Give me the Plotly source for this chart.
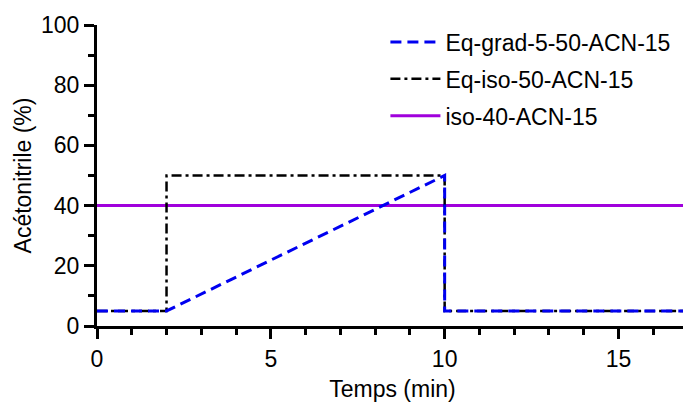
import plotly.graph_objects as go

# Data
grad_x = [0, 2, 10, 10, 17]
grad_y = [5, 5, 50, 5, 5]
iso50_x = [0, 2, 2, 10, 10, 17]
iso50_y = [5, 5, 50, 50, 5, 5]
iso40_x = [0, 17]
iso40_y = [40, 40]
x_ticks = [0, 5, 10, 15]
y_ticks = [0, 20, 40, 60, 80, 100]

FONT = "Liberation Sans, Arial, sans-serif"
FS = 23

fig = go.Figure()
fig.add_trace(go.Scatter(x=iso40_x, y=iso40_y, mode="lines", name="iso-40-ACN-15",
                         line=dict(color="#A000DC", width=3), legendrank=3,
                         legendgroup="c"))
fig.add_trace(go.Scatter(x=iso50_x, y=iso50_y, mode="lines", name="Eq-iso-50-ACN-15",
                         line=dict(color="black", width=2.5, dash="10px,4px,3px,4px"),
                         legendrank=2, legendgroup="b"))
fig.add_trace(go.Scatter(x=grad_x, y=grad_y, mode="lines", name="Eq-grad-5-50-ACN-15",
                         line=dict(color="#0000F0", width=3, dash="11px,6px"),
                         legendrank=1, legendgroup="a"))

axis_common = dict(showline=True, linecolor="black", linewidth=3, ticks="outside",
                   tickwidth=3, ticklen=10, tickcolor="black", showgrid=False,
                   zeroline=False, automargin=False,
                   tickfont=dict(family=FONT, size=FS, color="black"),
                   title_font=dict(family=FONT, size=FS, color="black"))

fig.update_xaxes(range=[0, 17], tickvals=x_ticks, ticktext=[str(v) for v in x_ticks],
                 minor=dict(dtick=1, ticks="outside", ticklen=6, tickwidth=3, tickcolor="black"),
                 title_text="Temps (min)", title_standoff=11, **axis_common)
fig.update_yaxes(range=[0, 100], tickvals=y_ticks, ticktext=[str(v) for v in y_ticks],
                 minor=dict(dtick=10, ticks="outside", ticklen=6, tickwidth=3, tickcolor="black"),
                 title_text="Acétonitrile (%)", title_standoff=3, **axis_common)

# page body has an 8px margin: figure covers viewport x 8..691, y 8..403
fig.update_layout(
    width=683, height=395,
    margin=dict(l=89, r=3, t=17, b=77),
    plot_bgcolor="white", paper_bgcolor="white",
    font=dict(family=FONT, size=FS, color="black"),
    showlegend=True,
    legend=dict(x=0.488, y=1.015, xanchor="left", yanchor="top",
                traceorder="grouped", tracegroupgap=4, itemwidth=50,
                font=dict(family=FONT, size=FS, color="black"),
                bgcolor="rgba(0,0,0,0)"),
)

fig.write_html("out.html")
